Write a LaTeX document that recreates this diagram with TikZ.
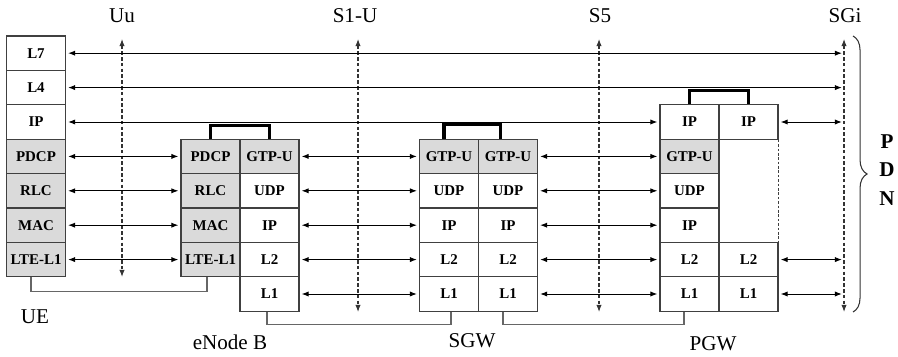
\documentclass[tikz,border=0pt]{standalone}
\usepackage{fontspec}
\setmainfont{Liberation Serif}
\usetikzlibrary{arrows.meta}
\usetikzlibrary{decorations.pathreplacing}

\definecolor{radiogray}{RGB}{218,218,218}

\tikzset{
  stackbox/.style={draw=black!75, line width=0.6pt, minimum width=1.18cm,
    minimum height=0.688cm, inner sep=0pt, font=\fontsize{8.5}{10}\selectfont\bfseries},
  peer/.style={<->, line width=0.55pt, shorten <=1.2pt, shorten >=1.2pt},
  iface/.style={<->, black!80, line width=0.6pt, dash pattern=on 2pt off 1.3pt},
  relay/.style={line width=1.8pt},
  joint/.style={draw=black!60, line width=0.6pt},
  elabel/.style={font=\fontsize{12}{14}\selectfont},
}

\begin{document}
\begin{tikzpicture}[x=0.02cm,y=-0.02cm,>={Latex[length=4pt,width=3pt]}]
  \useasboundingbox (0,0) rectangle (898,357);
  % UE
  \foreach \lbl/\k/\fc in {L7/0/white,L4/1/white,IP/2/white,PDCP/3/radiogray,
      RLC/4/radiogray,MAC/5/radiogray,LTE-L1/6/radiogray}
    \node[stackbox, fill=\fc] (ue\k) at (36,53.2+34.4*\k) {\lbl};
  % eNode B
  \foreach \lbl/\k in {PDCP/3,RLC/4,MAC/5,LTE-L1/6}
    \node[stackbox, fill=radiogray] (enbl\k) at (210.5,53.2+34.4*\k) {\lbl};
  \foreach \lbl/\k/\fc in {GTP-U/3/radiogray,UDP/4/white,IP/5/white,L2/6/white,L1/7/white}
    \node[stackbox, fill=\fc] (enbr\k) at (269.5,53.2+34.4*\k) {\lbl};
  % SGW
  \foreach \lbl/\k/\fc in {GTP-U/3/radiogray,UDP/4/white,IP/5/white,L2/6/white,L1/7/white}{
    \node[stackbox, fill=\fc] (sgwl\k) at (449,53.2+34.4*\k) {\lbl};
    \node[stackbox, fill=\fc] (sgwr\k) at (508,53.2+34.4*\k) {\lbl};
  }
  % PGW
  \foreach \lbl/\k/\fc in {IP/2/white,GTP-U/3/radiogray,UDP/4/white,IP/5/white,L2/6/white,L1/7/white}
    \node[stackbox, fill=\fc] (pgwl\k) at (689.5,53.2+34.4*\k) {\lbl};
  \foreach \lbl/\k in {IP/2,L2/6,L1/7}
    \node[stackbox] (pgwr\k) at (748.5,53.2+34.4*\k) {\lbl};
  \draw[black!75, line width=0.5pt, dash pattern=on 1.5pt off 1pt]
    (pgwr2.south east) -- (pgwr6.north east);

  % interfaces
  \node[elabel] (uu) at (122,16) {Uu};
  \node[elabel] (s1u) at (355,16) {S1-U};
  \node[elabel] (s5) at (600,16) {S5};
  \node[elabel] (sgi) at (845,16) {SGi};
  \coordinate (uutop) at (122,39);  \coordinate (uubot) at (122,277);
  \coordinate (s1utop) at (358,39); \coordinate (s1ubot) at (358,312);
  \coordinate (s5top) at (599,39);  \coordinate (s5bot) at (599,312);
  \coordinate (sgitop) at (844,39); \coordinate (sgibot) at (844,312);
  \draw[iface] (uutop) -- (uubot);
  \draw[iface] (s1utop) -- (s1ubot);
  \draw[iface] (s5top) -- (s5bot);
  \draw[iface] (sgitop) -- (sgibot);

  % peer arrows
  \foreach \k in {0,1}
    \draw[peer] (ue\k) -- (ue\k -| sgitop);
  \draw[peer] (ue2) -- (pgwl2);
  \foreach \k in {3,...,6}
    \draw[peer] (ue\k) -- (enbl\k);
  \foreach \k in {3,...,7}{
    \draw[peer] (enbr\k) -- (sgwl\k);
    \draw[peer] (sgwr\k) -- (pgwl\k);
  }
  \foreach \k in {2,6,7}
    \draw[peer] (pgwr\k) -- (pgwr\k -| sgitop);

  % relays
  \draw[relay] (enbl3.north) -- ++(0,-13) -| (enbr3.north);
  \draw[relay] ([xshift=-0.1cm]sgwl3.north) -- ++(0,-14) -| ([xshift=-0.15cm]sgwr3.north);
  \draw[relay] (pgwl2.north) -- ++(0,-14) -| (pgwr2.north);

  % node groups
  \draw[joint] ([xshift=-0.1cm]ue6.south) -- ++(0,14) -| ([xshift=-0.07cm]enbl6.south);
  \draw[joint] ([xshift=-0.05cm]enbr7.south) -- ++(0,13) -| ([xshift=0.04cm]sgwl7.south);
  \draw[joint] ([xshift=-0.1cm]sgwr7.south) -- ++(0,13) -| ([xshift=-0.11cm]pgwl7.south);

  \node[elabel] (ue) at (35,317) {UE};
  \node[elabel] (enb) at (230,342) {eNode B};
  \node[elabel] (sgw) at (472,341) {SGW};
  \node[elabel] (pgw) at (713,344) {PGW};

  % PDN
  \draw[black!80, line width=0.6pt, decorate, decoration={brace, amplitude=8pt}]
    (853,36) -- (853,312);
  \node[elabel, font=\fontsize{12}{16}\selectfont\bfseries, align=center] (pdn) at (887,170) {P\\D\\N};
\end{tikzpicture}
\end{document}
